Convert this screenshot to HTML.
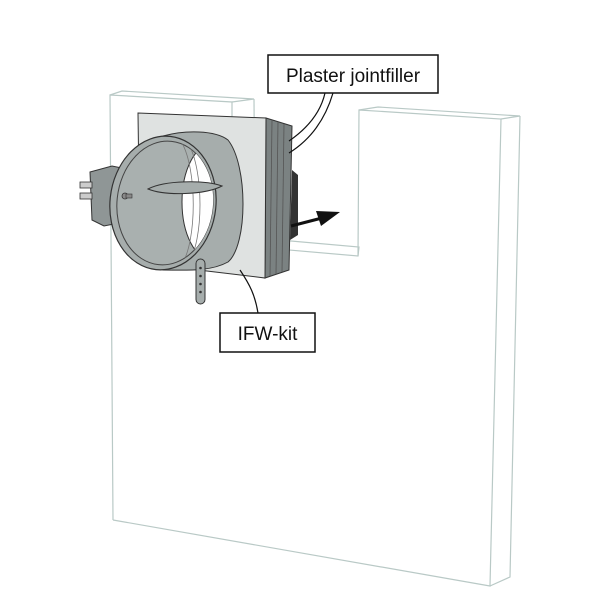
<!DOCTYPE html>
<html><head><style>html,body{margin:0;padding:0;background:#fff}svg{display:block}</style></head>
<body>
<svg width="600" height="600" viewBox="0 0 600 600" xmlns="http://www.w3.org/2000/svg">
<defs>
<clipPath id="inner"><ellipse cx="165" cy="203" rx="48" ry="62" transform="rotate(6 165 203)"/></clipPath>
</defs>
<g fill="none" stroke="#b9c9c6" stroke-width="1.2">
<polyline points="113,520 110,95 232,102 232,245"/>
<polyline points="110,95 122,91 254,99 232,102"/>
<line x1="254" y1="99" x2="255" y2="240"/>
<polyline points="232,245 358,256 359,247 257,238"/>
<polyline points="358,256 359,110 501,119 490,586 113,520"/>
<polyline points="359,110 378,107 520,116 501,119"/>
<polyline points="520,116 510,577 490,586"/>
</g>
<polygon points="266,118 292,126 289,270 265,278" fill="#7b8282" stroke="#333" stroke-width="1"/>
<g stroke="#555" stroke-width="0.8"><line x1="272" y1="120" x2="270" y2="276"/><line x1="278" y1="122" x2="276" y2="274"/><line x1="284" y1="124" x2="282" y2="272"/></g>
<polygon points="292,170 298,175 298,235 290,240" fill="#333"/>
<polygon points="138,113 266,118 265,278 140,263" fill="#dfe2e1" stroke="#333" stroke-width="1"/>
<path d="M90,172 L112,166 L122,168 L124,222 L104,226 L92,220 Z" fill="#8f9696" stroke="#333" stroke-width="1"/>
<g fill="#ccc" stroke="#333" stroke-width="0.8"><rect x="80" y="182" width="12" height="6"/><rect x="80" y="193" width="12" height="6"/></g>
<path d="M163,136 C185,130 215,130 228,140 C248,165 248,245 228,262 C210,272 185,270 163,270 Z" fill="#a6adac" stroke="#333" stroke-width="1"/>
<ellipse cx="163" cy="203" rx="53" ry="67" fill="#a6adac" stroke="#333" stroke-width="1.2" transform="rotate(6 163 203)"/>
<ellipse cx="165" cy="203" rx="48" ry="62" fill="#a9b0af" stroke="#444" stroke-width="1" transform="rotate(6 165 203)"/>
<g clip-path="url(#inner)">
<ellipse cx="212" cy="202" rx="30" ry="58" fill="#fff" stroke="#333" stroke-width="1"/>
<path d="M188,143 C204,170 204,240 188,264" fill="none" stroke="#777" stroke-width="0.8"/>
<path d="M182,143 C197,170 197,240 182,264" fill="none" stroke="#777" stroke-width="0.8"/>
</g>
<path d="M148,189 C165,180 205,180 222,186 C205,195 165,196 148,189 Z" fill="#a6adac" stroke="#333" stroke-width="1"/>
<circle cx="125" cy="196" r="3" fill="#888" stroke="#333" stroke-width="0.8"/>
<rect x="126" y="194" width="6" height="4" fill="#888" stroke="#333" stroke-width="0.6"/>
<rect x="196" y="259" width="9" height="45" rx="4.5" fill="#a6adac" stroke="#333" stroke-width="1"/>
<g fill="#333"><circle cx="200.5" cy="268" r="1.3"/><circle cx="200.5" cy="276" r="1.3"/><circle cx="200.5" cy="284" r="1.3"/><circle cx="200.5" cy="292" r="1.3"/></g>
<line x1="291" y1="226" x2="322" y2="218" stroke="#111" stroke-width="3"/>
<polygon points="340,212 316,211 321,226" fill="#111"/>
<g fill="none" stroke="#111" stroke-width="1.2">
<path d="M333,93 C325,120 310,140 289,153"/>
<path d="M325,93 C320,115 305,130 289,141"/>
<path d="M258,313 C255,295 250,285 240,270"/>
</g>
<rect x="268" y="55" width="170" height="38" fill="#fff" stroke="#111" stroke-width="1.5"/>
<text x="353" y="82" text-anchor="middle" font-family="Liberation Sans, sans-serif" font-size="19" fill="#111">Plaster jointfiller</text>
<rect x="220" y="313" width="95" height="39" fill="#fff" stroke="#111" stroke-width="1.5"/>
<text x="267.5" y="340" text-anchor="middle" font-family="Liberation Sans, sans-serif" font-size="19" fill="#111">IFW-kit</text>
</svg>
</body></html>
